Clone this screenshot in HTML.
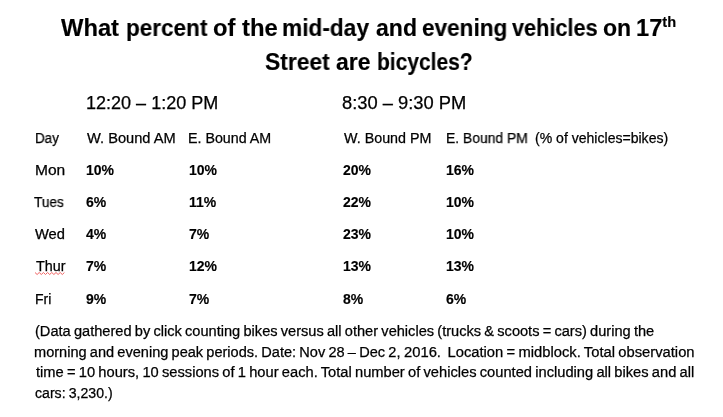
<!DOCTYPE html>
<html><head><meta charset="utf-8">
<style>
html,body{margin:0;padding:0;background:#fff;}
body{width:723px;height:417px;position:relative;overflow:hidden;font-family:"Liberation Sans",sans-serif;color:#000;}
.t{position:absolute;white-space:pre;line-height:1;transform-origin:0 0;will-change:transform;}
.b{font-weight:bold;}
.t{-webkit-text-stroke:0.25px #000;}
.b{-webkit-text-stroke:0.15px #000;}
sup{font-size:0.62em;vertical-align:0;position:relative;top:-0.6em;}
.sq{position:absolute;}
</style></head><body>
<div class="t b" id="tw0" style="left:60.74px;top:17.00px;font-size:23px;transform:scaleX(1.0320);">What</div>
<div class="t b" id="tw1" style="left:125.66px;top:17.00px;font-size:23px;transform:scaleX(0.9801);">percent</div>
<div class="t b" id="tw2" style="left:213.07px;top:17.00px;font-size:23px;transform:scaleX(1.0300);">of</div>
<div class="t b" id="tw3" style="left:241.59px;top:17.00px;font-size:23px;transform:scaleX(1.0360);">the</div>
<div class="t b" id="tw4" style="left:282.44px;top:17.00px;font-size:23px;transform:scaleX(0.9866);">mid-day</div>
<div class="t b" id="tw5" style="left:375.60px;top:17.00px;font-size:23px;transform:scaleX(1.0027);">and</div>
<div class="t b" id="tw6" style="left:421.62px;top:17.00px;font-size:23px;transform:scaleX(0.9825);">evening</div>
<div class="t b" id="tw7" style="left:511.68px;top:17.00px;font-size:23px;transform:scaleX(0.9430);">vehicles</div>
<div class="t b" id="tw8" style="left:603.13px;top:17.00px;font-size:23px;transform:scaleX(1.0020);">on</div>
<div class="t b" id="tw9" style="left:636.43px;top:17.00px;font-size:23px;transform:scaleX(1.0286);">17<sup>th</sup></div>
<div class="t b" id="tv0" style="left:265.44px;top:51.00px;font-size:23px;transform:scaleX(0.9926);">Street</div>
<div class="t b" id="tv1" style="left:336.10px;top:51.00px;font-size:23px;transform:scaleX(0.9983);">are</div>
<div class="t b" id="tv2" style="left:376.76px;top:51.00px;font-size:23px;transform:scaleX(0.9120);">bicycles?</div>
<div class="t" id="tm1" style="left:86.14px;top:95.00px;font-size:17.5px;transform:scaleX(1.0301);">12:20 – 1:20 PM</div>
<div class="t" id="tm2" style="left:342.43px;top:95.00px;font-size:17.5px;transform:scaleX(1.0466);">8:30 – 9:30 PM</div>
<div class="t" id="h0" style="left:34.65px;top:131.00px;font-size:14.0px;transform:scaleX(0.9578);">Day</div>
<div class="t" id="h1" style="left:87.11px;top:131.00px;font-size:14.0px;transform:scaleX(1.0452);">W. Bound AM</div>
<div class="t" id="h2" style="left:188.20px;top:131.00px;font-size:14.0px;transform:scaleX(1.0185);">E. Bound AM</div>
<div class="t" id="h3" style="left:344.32px;top:131.00px;font-size:14.0px;transform:scaleX(1.0215);">W. Bound PM</div>
<div class="t" id="h4" style="left:445.62px;top:131.00px;font-size:14.0px;transform:scaleX(0.9920);">E. Bound PM</div>
<div class="t" id="h5" style="left:534.89px;top:131.00px;font-size:14.0px;transform:scaleX(1.0038);">(% of vehicles=bikes)</div>
<div class="t" id="d0" style="left:34.54px;top:163.00px;font-size:14.0px;transform:scaleX(1.1111);">Mon</div>
<div class="t b" id="c00" style="left:86.20px;top:163.00px;font-size:14.0px;">10%</div>
<div class="t b" id="c01" style="left:189.20px;top:163.00px;font-size:14.0px;">10%</div>
<div class="t b" id="c02" style="left:343.30px;top:163.00px;font-size:14.0px;">20%</div>
<div class="t b" id="c03" style="left:446.20px;top:163.00px;font-size:14.0px;">16%</div>
<div class="t" id="d1" style="left:34.44px;top:195.00px;font-size:14.0px;transform:scaleX(0.9765);">Tues</div>
<div class="t b" id="c10" style="left:86.20px;top:195.00px;font-size:14.0px;">6%</div>
<div class="t b" id="c11" style="left:189.20px;top:195.00px;font-size:14.0px;">11%</div>
<div class="t b" id="c12" style="left:343.30px;top:195.00px;font-size:14.0px;">22%</div>
<div class="t b" id="c13" style="left:446.20px;top:195.00px;font-size:14.0px;">10%</div>
<div class="t" id="d2" style="left:35.29px;top:227.00px;font-size:14.0px;transform:scaleX(1.0499);">Wed</div>
<div class="t b" id="c20" style="left:86.20px;top:227.00px;font-size:14.0px;">4%</div>
<div class="t b" id="c21" style="left:189.20px;top:227.00px;font-size:14.0px;">7%</div>
<div class="t b" id="c22" style="left:343.30px;top:227.00px;font-size:14.0px;">23%</div>
<div class="t b" id="c23" style="left:446.20px;top:227.00px;font-size:14.0px;">10%</div>
<div class="t" id="d3" style="left:35.73px;top:259.00px;font-size:14.0px;transform:scaleX(1.0255);">Thur</div>
<div class="t b" id="c30" style="left:86.20px;top:259.00px;font-size:14.0px;">7%</div>
<div class="t b" id="c31" style="left:189.20px;top:259.00px;font-size:14.0px;">12%</div>
<div class="t b" id="c32" style="left:343.30px;top:259.00px;font-size:14.0px;">13%</div>
<div class="t b" id="c33" style="left:446.20px;top:259.00px;font-size:14.0px;">13%</div>
<div class="t" id="d4" style="left:34.51px;top:292.00px;font-size:14.0px;transform:scaleX(0.9984);">Fri</div>
<div class="t b" id="c40" style="left:86.20px;top:292.00px;font-size:14.0px;">9%</div>
<div class="t b" id="c41" style="left:189.20px;top:292.00px;font-size:14.0px;">7%</div>
<div class="t b" id="c42" style="left:343.30px;top:292.00px;font-size:14.0px;">8%</div>
<div class="t b" id="c43" style="left:446.20px;top:292.00px;font-size:14.0px;">6%</div>
<div class="t" id="p0" style="left:34.54px;top:324.00px;font-size:14.0px;word-spacing:-0.8px;transform:scaleX(1.0429);">(Data gathered by click counting bikes versus all other vehicles (trucks &amp; scoots = cars) during the</div>
<div class="t" id="p1a" style="left:34.34px;top:345.00px;font-size:14.0px;word-spacing:-0.8px;transform:scaleX(1.0400);">morning and evening peak periods. Date: Nov 28 – Dec 2,</div>
<div class="t" id="p1b" style="left:403.54px;top:345.00px;font-size:14.0px;word-spacing:-0.8px;transform:scaleX(1.0547);">2016.  Location = midblock. Total observation</div>
<div class="t" id="p2" style="left:35.79px;top:365.00px;font-size:14.0px;word-spacing:-0.8px;transform:scaleX(1.0486);">time = 10 hours, 10 sessions of 1 hour each. Total number of vehicles counted including all bikes and all</div>
<div class="t" id="p3" style="left:35.12px;top:386.00px;font-size:14.0px;word-spacing:-0.8px;transform:scaleX(1.0083);">cars: 3,230.)</div>
<svg style="position:absolute;left:0;top:0" width="723" height="417"><polyline points="35.0,272.5 37.1,274.5 39.2,272.5 41.3,274.5 43.4,272.5 45.5,274.5 47.6,272.5 49.7,274.5 51.8,272.5 53.9,274.5 56.0,272.5 58.1,274.5 60.2,272.5 62.3,274.5 64.4,272.5" fill="none" stroke="#f06060" stroke-width="1"/></svg>
</body></html>
